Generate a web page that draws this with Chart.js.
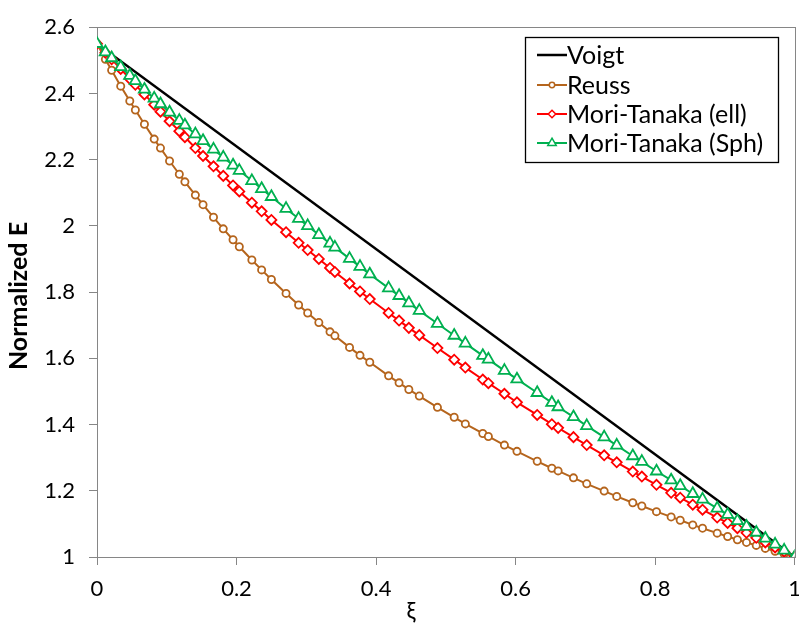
<!DOCTYPE html>
<html><head><meta charset="utf-8">
<script src="https://cdn.jsdelivr.net/npm/chart.js@4.4.0/dist/chart.umd.min.js"></script>
<style>
html,body{margin:0;padding:0;overflow:hidden;background:#fff;width:799px;height:630px}
#wrap{width:812px;height:630px;position:relative}
</style></head><body>
<div id="wrap"><canvas id="c" width="812" height="630"></canvas></div>
<script>
const xi = [0,0.012,0.021,0.034,0.047,0.055,0.068,0.082,0.091,0.104,0.118,0.126,0.141,0.152,0.167,0.181,0.195,0.204,0.222,0.236,0.25,0.271,0.289,0.302,0.318,0.334,0.341,0.362,0.377,0.391,0.418,0.433,0.447,0.462,0.488,0.512,0.528,0.553,0.561,0.584,0.602,0.631,0.652,0.661,0.683,0.702,0.727,0.745,0.768,0.781,0.802,0.823,0.836,0.854,0.868,0.889,0.904,0.918,0.931,0.945,0.958,0.972,0.985,1.0];
const reuss = [2.550,2.503,2.470,2.422,2.377,2.350,2.307,2.262,2.235,2.196,2.156,2.133,2.093,2.064,2.026,1.991,1.958,1.937,1.897,1.867,1.838,1.796,1.761,1.737,1.708,1.680,1.668,1.633,1.609,1.588,1.547,1.526,1.506,1.486,1.452,1.422,1.402,1.373,1.364,1.338,1.319,1.289,1.268,1.260,1.239,1.221,1.199,1.183,1.164,1.154,1.137,1.121,1.111,1.097,1.087,1.072,1.062,1.052,1.044,1.035,1.026,1.017,1.009,1.000];
const moriEll = [2.550,2.523,2.503,2.474,2.444,2.426,2.397,2.366,2.345,2.316,2.286,2.268,2.235,2.211,2.180,2.151,2.122,2.104,2.070,2.044,2.018,1.981,1.949,1.927,1.900,1.873,1.861,1.826,1.802,1.779,1.737,1.714,1.692,1.670,1.631,1.596,1.572,1.536,1.525,1.493,1.467,1.429,1.401,1.390,1.362,1.338,1.307,1.286,1.258,1.243,1.218,1.194,1.179,1.158,1.143,1.119,1.103,1.087,1.073,1.058,1.044,1.029,1.016,1.000];
const moriSph = [2.550,2.525,2.507,2.480,2.454,2.438,2.412,2.385,2.368,2.343,2.318,2.304,2.277,2.257,2.231,2.207,2.183,2.167,2.136,2.112,2.088,2.052,2.022,2.000,1.973,1.947,1.935,1.901,1.877,1.854,1.812,1.789,1.767,1.744,1.705,1.669,1.645,1.608,1.597,1.563,1.537,1.496,1.466,1.453,1.423,1.396,1.362,1.337,1.305,1.288,1.259,1.232,1.215,1.191,1.174,1.147,1.128,1.109,1.092,1.074,1.056,1.038,1.020,1.000];
const voigtX = [0, 1];
const voigtY = [2.55, 1.0];
const xTicks = [0, 0.2, 0.4, 0.6, 0.8, 1];
const xTickLabels = ['0', '0.2', '0.4', '0.6', '0.8', '1'];
const yTicks = [1, 1.2, 1.4, 1.6, 1.8, 2, 2.2, 2.4, 2.6];
const yTickLabels = ['1', '1.2', '1.4', '1.6', '1.8', '2', '2.2', '2.4', '2.6'];
const seriesNames = ['Voigt', 'Reuss', 'Mori-Tanaka (ell)', 'Mori-Tanaka (Sph)'];

const FONT = 'Lato, "Open Sans", sans-serif';
const pts = (xs, ys) => xs.map((x, i) => ({x: x, y: ys[i]}));

const frame = {
  id: 'frame',
  beforeDatasetsDraw(chart) {
    const a = chart.chartArea, c = chart.ctx;
    c.save(); c.strokeStyle = '#868686'; c.lineWidth = 1;
    c.strokeRect(Math.round(a.left) + 0.5, Math.round(a.top) + 0.5, Math.round(a.right - a.left), Math.round(a.bottom - a.top));
    c.restore();
  }
};
const extras = {
  id: 'extras',
  afterDraw(chart) {
    const c = chart.ctx;
    c.save();
    c.fillStyle = '#000';
    c.font = '23px ' + FONT; c.textAlign = 'center'; c.textBaseline = 'middle';
    c.fillText('ξ', 411, 612);
    c.save(); c.translate(19, 296); c.rotate(-Math.PI / 2);
    c.font = 'bold 25px ' + FONT; c.fillText('Normalized E', 0, 0); c.restore();
    // legend
    c.fillStyle = '#fff'; c.fillRect(525, 37, 253, 125);
    c.strokeStyle = '#000'; c.lineWidth = 1.3; c.strokeRect(525.5, 37.5, 253, 125);
    const rows = [55, 85, 114, 143];
    chart.data.datasets.forEach((ds, i) => {
      const y = rows[i];
      c.strokeStyle = ds.borderColor; c.lineWidth = ds.borderWidth;
      c.beginPath(); c.moveTo(537, y); c.lineTo(567, y); c.stroke();
      if (ds.pointRadius > 0) {
        c.fillStyle = '#fff'; c.strokeStyle = ds.borderColor; c.lineWidth = 1.5;
        Chart.helpers.drawPoint(c, {pointStyle: ds.pointStyle, radius: ds.pointRadius * 0.75, rotation: 0, borderWidth: 1.5}, 552, y);
      }
      c.fillStyle = '#000'; c.font = '25px ' + FONT; c.textAlign = 'left'; c.textBaseline = 'middle';
      c.fillText(seriesNames[i], 567, y + 1);
    });
    c.restore();
  }
};

new Chart(document.getElementById('c'), {
  type: 'scatter',
  data: {
    datasets: [
      {label: seriesNames[0], data: pts(voigtX, voigtY), showLine: true, borderColor: '#000000', borderWidth: 2.5, pointRadius: 0, order: 4},
      {label: seriesNames[1], data: pts(xi, reuss), showLine: true, borderColor: '#B5651D', backgroundColor: '#ffffff', borderWidth: 2, pointStyle: 'circle', pointRadius: 3.6, pointBorderWidth: 1.8, order: 3},
      {label: seriesNames[2], data: pts(xi, moriEll), showLine: true, borderColor: '#FF0000', backgroundColor: '#ffffff', borderWidth: 2, pointStyle: 'rectRot', pointRadius: 5, pointBorderWidth: 1.8, order: 2},
      {label: seriesNames[3], data: pts(xi, moriSph), showLine: true, borderColor: '#00B050', backgroundColor: '#ffffff', borderWidth: 2, pointStyle: 'triangle', pointRadius: 6.5, pointBorderWidth: 1.8, order: 1}
    ]
  },
  options: {
    responsive: false, animation: false, devicePixelRatio: 1,
    layout: {padding: {top: 22, right: 7, left: 0, bottom: 0}},
    plugins: {legend: {display: false}, tooltip: {enabled: false}},
    scales: {
      x: {
        type: 'linear', min: 0, max: 1,
        afterBuildTicks: s => { s.ticks = xTicks.map(v => ({value: v})); },
        afterFit: s => { s.height = 73; },
        grid: {drawOnChartArea: false, drawTicks: true, tickLength: 8, color: '#868686'},
        border: {color: '#868686'},
        ticks: {color: '#000', font: {family: FONT, size: 22}, padding: 11, maxRotation: 0,
          callback: (v) => { const k = xTicks.indexOf(v); return k >= 0 ? xTickLabels[k] : ''; }}
      },
      y: {
        type: 'linear', min: 1, max: 2.6,
        afterBuildTicks: s => { s.ticks = yTicks.map(v => ({value: v})); },
        afterFit: s => { s.width = 97; },
        grid: {drawOnChartArea: false, drawTicks: true, tickLength: 8, color: '#868686'},
        border: {color: '#868686'},
        ticks: {color: '#000', font: {family: FONT, size: 22}, padding: 14,
          callback: (v) => { const k = yTicks.indexOf(v); return k >= 0 ? yTickLabels[k] : ''; }}
      }
    }
  },
  plugins: [frame, extras]
});
</script>
</body></html>
